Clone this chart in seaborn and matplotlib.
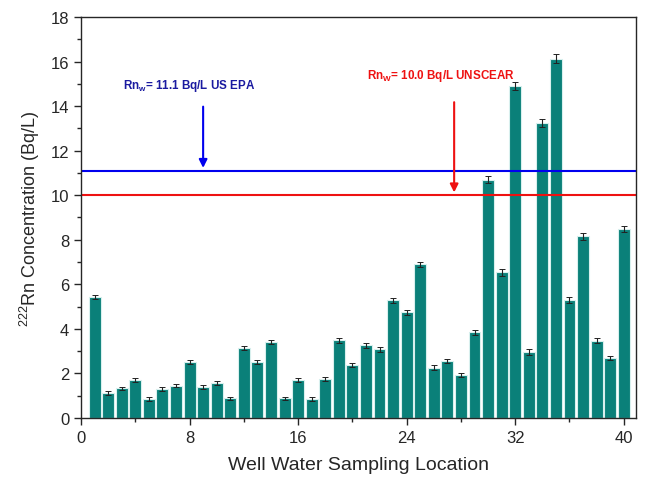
import numpy as np
import pandas as pd
import seaborn as sns
import matplotlib.pyplot as plt
from matplotlib.ticker import MultipleLocator

locations = list(range(1, 41))
radon = [5.43, 1.12, 1.33, 1.69, 0.85, 1.30, 1.45, 2.50, 1.39, 1.56,
         0.88, 3.14, 2.52, 3.42, 0.88, 1.72, 0.85, 1.75, 3.48, 2.38,
         3.27, 3.09, 5.28, 4.74, 6.89, 2.26, 2.56, 1.93, 3.84, 10.69,
         6.53, 14.90, 2.97, 13.23, 16.13, 5.29, 8.15, 3.47, 2.68, 8.48]
errors = [0.10, 0.08, 0.08, 0.09, 0.07, 0.08, 0.08, 0.10, 0.08, 0.09,
          0.07, 0.10, 0.09, 0.10, 0.07, 0.09, 0.07, 0.08, 0.11, 0.09,
          0.11, 0.11, 0.12, 0.11, 0.13, 0.10, 0.10, 0.09, 0.12, 0.16,
          0.14, 0.20, 0.13, 0.18, 0.21, 0.14, 0.16, 0.10, 0.10, 0.14]
epa_limit = 11.1
unscear_limit = 10.0

df = pd.DataFrame({"loc": locations, "rn": radon, "err": errors})

sns.set_style("ticks")
plt.rcParams['font.family'] = ['Liberation Sans', 'DejaVu Sans']
plt.rcParams['mathtext.fontset'] = 'custom'
plt.rcParams['mathtext.rm'] = 'Liberation Sans'
plt.rcParams['mathtext.bf'] = 'Liberation Sans:bold'

fig = plt.figure(figsize=(6.45, 4.81), dpi=100)
ax = fig.add_axes([0.1256, 0.129, 0.8604, 0.8336])

sns.barplot(data=df, x="loc", y="rn", native_scale=True, color="#0a8079",
            saturation=1, width=0.88, edgecolor="#d8f0ee", linewidth=0.8,
            errorbar=None, ax=ax)
ax.errorbar(df["loc"], df["rn"], yerr=df["err"], fmt="none", ecolor="#222222",
            elinewidth=0.8, capsize=2.5, capthick=0.7)

ax.axhline(epa_limit, color="#0000ee", lw=1.5)
ax.axhline(unscear_limit, color="#ee1111", lw=1.5)

ax.annotate("", xy=(9.0, epa_limit), xytext=(9.0, 14.1),
            arrowprops=dict(arrowstyle="-|>", color="#0000ee", lw=1.5, mutation_scale=12))
ax.text(8.0, 14.95, r"Rn$_{\mathbf{w}}$= 11.1 Bq/L US EPA", color="#1a1aa0",
        fontsize=8.4, fontweight="bold", ha="center", va="center")
ax.annotate("", xy=(27.5, unscear_limit), xytext=(27.5, 14.3),
            arrowprops=dict(arrowstyle="-|>", color="#ee1111", lw=1.5, mutation_scale=12))
ax.text(26.5, 15.4, r"Rn$_{\mathbf{W}}$= 10.0 Bq/L UNSCEAR", color="#ee1111",
        fontsize=8.4, fontweight="bold", ha="center", va="center")

ax.set_xlim(0, 40.9)
ax.set_ylim(0, 18)
ax.xaxis.set_major_locator(MultipleLocator(8))
ax.xaxis.set_minor_locator(MultipleLocator(4))
ax.yaxis.set_major_locator(MultipleLocator(2))
ax.yaxis.set_minor_locator(MultipleLocator(1))
ax.set_xticks(range(0, 41, 8))
ax.set_xticklabels([str(v) for v in range(0, 41, 8)])
ax.tick_params(which="major", length=5, width=1, labelsize=12)
ax.tick_params(which="minor", length=3, width=1)
for s in ax.spines.values():
    s.set_linewidth(1.0)
    s.set_visible(True)

ax.set_xlabel("Well Water Sampling Location", fontsize=14, labelpad=8)
ax.set_ylabel(r"$^{222}$Rn Concentration (Bq/L)", fontsize=13, labelpad=6)

fig.savefig("out.png", dpi=100)
